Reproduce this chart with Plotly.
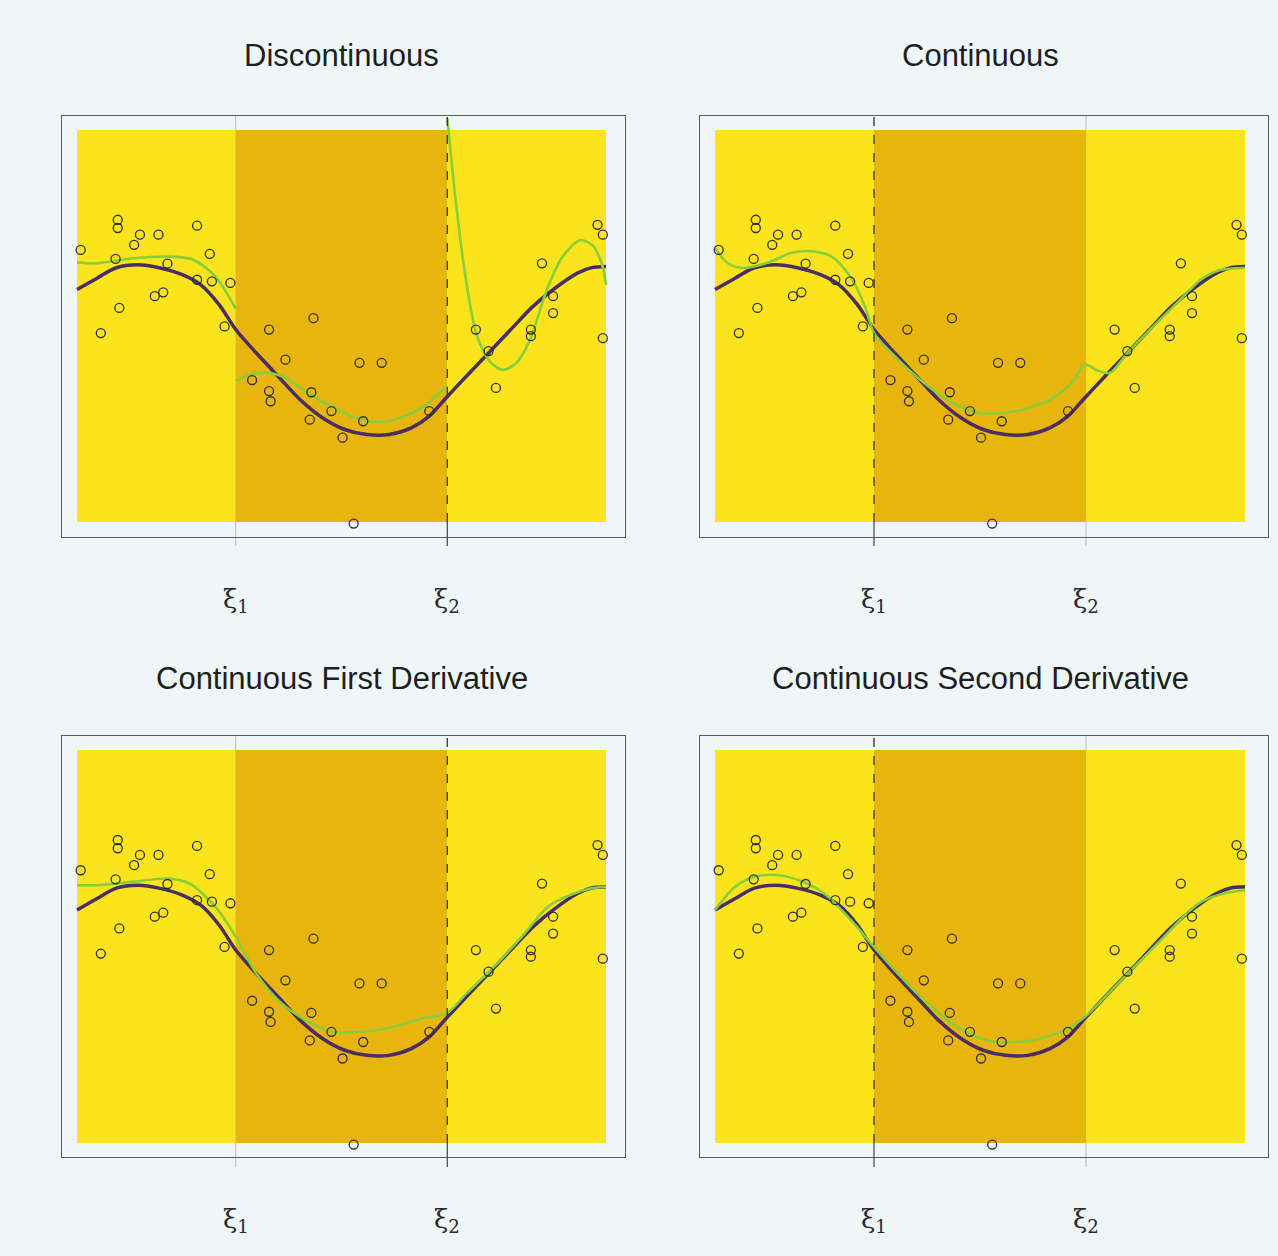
import plotly.graph_objects as go

# ---------------------------------------------------------------------------
# Data (x in [0, 1], knots at xi1 = 0.3 and xi2 = 0.7)
# ---------------------------------------------------------------------------
knots = [0.3, 0.7]
knot_labels = ["ξ<sub>1</sub>", "ξ<sub>2</sub>"]

panel_titles = [
    "Discontinuous",
    "Continuous",
    "Continuous First Derivative",
    "Continuous Second Derivative",
]

# observed points (same sample in every panel)
obs_x = [0.007, 0.045, 0.080, 0.077, 0.077, 0.119, 0.108, 0.154, 0.227, 0.251,
         0.147, 0.163, 0.073, 0.171, 0.227, 0.255, 0.290, 0.279, 0.363, 0.394,
         0.447, 0.534, 0.576, 0.331, 0.363, 0.366, 0.440, 0.481, 0.502, 0.541,
         0.523, 0.754, 0.792, 0.858, 0.858, 0.879, 0.900, 0.900, 0.984, 0.994,
         0.994, 0.666, 0.778, 0.443]
obs_y = [0.694, 0.482, 0.546, 0.771, 0.750, 0.733, 0.707, 0.733, 0.756, 0.684,
         0.576, 0.586, 0.671, 0.659, 0.618, 0.614, 0.610, 0.499, 0.491, 0.414,
         0.520, 0.406, 0.406, 0.362, 0.334, 0.308, 0.261, 0.283, 0.215, 0.257,
         -0.004, 0.491, 0.342, 0.491, 0.474, 0.660, 0.576, 0.533, 0.758, 0.733,
         0.469, 0.283, 0.436, 0.331]

# underlying true function
true_x = [0.0, 0.038, 0.073, 0.115, 0.157, 0.199, 0.234, 0.269, 0.300, 0.339,
          0.380, 0.422, 0.464, 0.506, 0.548, 0.590, 0.632, 0.666, 0.698, 0.736,
          0.778, 0.820, 0.862, 0.904, 0.946, 0.973, 1.0]
true_y = [0.593, 0.622, 0.648, 0.656, 0.648, 0.631, 0.605, 0.554, 0.491, 0.431,
          0.372, 0.312, 0.266, 0.236, 0.223, 0.223, 0.240, 0.270, 0.317, 0.372,
          0.431, 0.491, 0.550, 0.597, 0.635, 0.649, 0.652]

# fitted piecewise cubic: discontinuous (three separate pieces)
disc1_x = [0.0, 0.038, 0.108, 0.178, 0.220, 0.262, 0.300]
disc1_y = [0.662, 0.660, 0.673, 0.677, 0.669, 0.626, 0.544]
disc2_x = [0.300, 0.345, 0.387, 0.457, 0.527, 0.567, 0.610, 0.655, 0.700]
disc2_y = [0.360, 0.381, 0.372, 0.312, 0.266, 0.255, 0.265, 0.295, 0.348]
disc3_x = [0.700, 0.715, 0.735, 0.755, 0.780, 0.805, 0.830, 0.856, 0.888, 0.918,
           0.951, 0.975, 0.994, 1.0]
disc3_y = [1.030, 0.830, 0.620, 0.480, 0.410, 0.388, 0.405, 0.464, 0.592, 0.677,
           0.719, 0.705, 0.650, 0.605]

# fitted piecewise cubic: continuous
cont_x = [0.0, 0.024, 0.053, 0.101, 0.143, 0.179, 0.220, 0.255, 0.283, 0.300,
          0.339, 0.387, 0.443, 0.499, 0.569, 0.632, 0.673, 0.698, 0.719, 0.745,
          0.778, 0.827, 0.877, 0.918, 0.953, 1.0]
cont_y = [0.699, 0.660, 0.648, 0.662, 0.686, 0.691, 0.677, 0.626, 0.550, 0.482,
          0.423, 0.363, 0.308, 0.278, 0.283, 0.312, 0.355, 0.402, 0.388, 0.380,
          0.431, 0.499, 0.566, 0.620, 0.643, 0.648]

# fitted piecewise cubic: continuous first derivative
d1_x = [0.0, 0.038, 0.108, 0.171, 0.213, 0.262, 0.300, 0.339, 0.387, 0.443,
        0.485, 0.541, 0.597, 0.653, 0.698, 0.736, 0.785, 0.841, 0.890, 0.932,
        0.973, 1.0]
d1_y = [0.656, 0.656, 0.665, 0.673, 0.660, 0.601, 0.525, 0.431, 0.355, 0.304,
        0.283, 0.283, 0.295, 0.317, 0.329, 0.380, 0.444, 0.525, 0.601, 0.631,
        0.648, 0.652]

# fitted piecewise cubic: continuous second derivative (cubic spline)
d2_x = [0.0, 0.038, 0.073, 0.115, 0.157, 0.206, 0.262, 0.300, 0.345, 0.401,
        0.457, 0.513, 0.569, 0.625, 0.666, 0.698, 0.736, 0.785, 0.841, 0.890,
        0.918, 0.960, 1.0]
d2_y = [0.593, 0.652, 0.677, 0.682, 0.669, 0.635, 0.559, 0.499, 0.431, 0.355,
        0.295, 0.261, 0.257, 0.270, 0.291, 0.321, 0.372, 0.440, 0.516, 0.584,
        0.614, 0.635, 0.643]

# which knot is drawn dashed in each panel
dashed_knot = [1, 0, 1, 0]

# ---------------------------------------------------------------------------
# Styling / layout
# ---------------------------------------------------------------------------
W, H = 1278, 1256
PAGE_BG = "#EEF6F7"
LIGHT_YELLOW = "#FBE41C"
GOLD = "#E8B40E"
TRUE_COLOR = "#4A2D62"
FIT_COLOR = "#86CF3A"
FRAME_COLOR = "#5A5A5A"

# pixel geometry of each panel: yellow region and surrounding frame
cols = [dict(y0=77, y1=606, f0=62, f1=625), dict(y0=715, y1=1245, f0=700, f1=1268)]
rows = [dict(y0=130, y1=522, f0=116, f1=537), dict(y0=750, y1=1143, f0=736, f1=1157)]
title_px = [56, 678]
label_px = [600, 1220]

fig = go.Figure()
shapes = []
annotations = []

fits = [
    [(disc1_x, disc1_y), (disc2_x, disc2_y), (disc3_x, disc3_y)],
    [(cont_x, cont_y)],
    [(d1_x, d1_y)],
    [(d2_x, d2_y)],
]

for k in range(4):
    r, c = divmod(k, 2)
    col, row = cols[c], rows[r]
    sx = "" if k == 0 else str(k + 1)
    xa, ya = "x" + sx, "y" + sx

    ppx = (col["y1"] - col["y0"])
    ppy = (row["y1"] - row["y0"])
    xr = [(col["f0"] - col["y0"]) / ppx, (col["f1"] - col["y0"]) / ppx]
    yr = [(row["y1"] - row["f1"]) / ppy, (row["y1"] - row["f0"]) / ppy]

    fig.layout["xaxis" + sx] = dict(
        domain=[col["f0"] / W, col["f1"] / W], range=xr, anchor=ya,
        showgrid=False, zeroline=False, showticklabels=False, ticks="",
        showline=True, mirror=True, linecolor=FRAME_COLOR, linewidth=1,
    )
    fig.layout["yaxis" + sx] = dict(
        domain=[1 - row["f1"] / H, 1 - row["f0"] / H], range=yr, anchor=xa,
        showgrid=False, zeroline=False, showticklabels=False, ticks="",
        showline=True, mirror=True, linecolor=FRAME_COLOR, linewidth=1,
    )

    # faint knot line behind the coloured regions
    other = 1 - dashed_knot[k]
    below = 1 - (row["y1"] + 24) / H
    shapes.append(dict(type="line", xref=xa, yref="paper", layer="below",
                       x0=knots[other], x1=knots[other],
                       y0=below, y1=1 - row["f0"] / H,
                       line=dict(color="#B8BDBD", width=1)))

    # coloured regions between the knots
    bounds = [0.0] + knots + [1.0]
    for i in range(3):
        shapes.append(dict(type="rect", xref=xa, yref=ya, layer="below",
                           x0=bounds[i], x1=bounds[i + 1], y0=0, y1=1,
                           fillcolor=GOLD if i == 1 else LIGHT_YELLOW,
                           line=dict(width=0)))

    # dashed knot line, continuing solid below the region
    kd = knots[dashed_knot[k]]
    shapes.append(dict(type="line", xref=xa, yref=ya, layer="above",
                       x0=kd, x1=kd, y0=0, y1=yr[1],
                       line=dict(color="#333333", width=1.3, dash="dash")))
    shapes.append(dict(type="line", xref=xa, yref="paper", layer="above",
                       x0=kd, x1=kd, y0=below, y1=1 - row["y1"] / H,
                       line=dict(color="#444444", width=1.2)))

    # true function
    fig.add_trace(go.Scatter(x=true_x, y=true_y, xaxis=xa, yaxis=ya,
                             mode="lines", line=dict(color=TRUE_COLOR, width=3.5,
                                                     shape="spline", smoothing=0.8),
                             showlegend=False, hoverinfo="skip"))
    # fitted curve(s)
    for fx, fy in fits[k]:
        fig.add_trace(go.Scatter(x=fx, y=fy, xaxis=xa, yaxis=ya, mode="lines",
                                 line=dict(color=FIT_COLOR, width=2.6,
                                           shape="spline", smoothing=0.8),
                                 cliponaxis=True,
                                 showlegend=False, hoverinfo="skip"))
    # observations
    fig.add_trace(go.Scatter(x=obs_x, y=obs_y, xaxis=xa, yaxis=ya, mode="markers",
                             marker=dict(symbol="circle-open", size=9,
                                         color="#2E2E2E", line=dict(width=1.3)),
                             cliponaxis=False,
                             showlegend=False, hoverinfo="skip"))

    # title
    annotations.append(dict(
        text=panel_titles[k], xref="paper", yref="paper",
        x=((col["y0"] + col["y1"]) / 2) / W, y=1 - title_px[r] / H,
        xanchor="center", yanchor="middle", showarrow=False,
        font=dict(family="Liberation Sans, Arial, sans-serif", size=31,
                  color="#1E1E1E")))
    # knot labels under the panel
    for j, kn in enumerate(knots):
        annotations.append(dict(
            text=knot_labels[j], xref=xa, yref="paper",
            x=kn, y=1 - label_px[r] / H,
            xanchor="center", yanchor="middle", showarrow=False,
            font=dict(family="DejaVu Serif, Liberation Serif, serif", size=26,
                      color="#2A2A2A")))

fig.update_layout(
    width=W, height=H,
    margin=dict(l=0, r=0, t=0, b=0),
    paper_bgcolor=PAGE_BG, plot_bgcolor=PAGE_BG,
    shapes=shapes, annotations=annotations,
)

fig.write_html("out.html")
